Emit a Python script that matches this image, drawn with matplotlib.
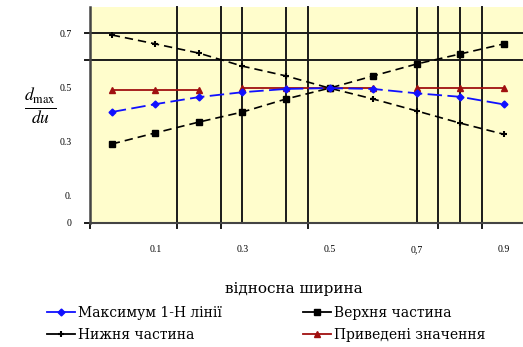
import matplotlib
matplotlib.use("Agg")
import matplotlib.pyplot as plt
from matplotlib.lines import Line2D
import numpy as np

# ---- data ----
x = [0.0, 0.1, 0.2, 0.3, 0.4, 0.5, 0.6, 0.7, 0.8, 0.9]
maximum_1n = [0.409, 0.438, 0.464, 0.482, 0.494, 0.497, 0.494, 0.478, 0.465, 0.437]
upper_part = [0.291, 0.332, 0.372, 0.409, 0.457, 0.497, 0.542, 0.586, 0.623, 0.660]
lower_part = [0.693, 0.660, 0.626, 0.578, 0.542, 0.497, 0.457, 0.413, 0.368, 0.327]
reduced = [0.490, 0.490, 0.490, 0.496, 0.496, 0.496, 0.496, 0.496, 0.496, 0.496]
reduced_groups = [0, 0, 0, 1, 1, 1, 1, 2, 2, 2]

labels = ["Максимум 1-Н лінії", "Верхня частина", "Нижня частина", "Приведені значення"]
xtick_vals = [0.1, 0.3, 0.5, 0.7, 0.9]
xtick_labels = ["0.1", "0.3", "0.5", "0,7", "0.9"]
ytick_vals = [0.0, 0.1, 0.3, 0.5, 0.7]
ytick_labels = ["0", "0.", "0.3", "0.5", "0.7"]
vgrid_ticked = [0.15, 0.25, 0.45, 0.75, 0.85]
vgrid_plain = [0.3, 0.4, 0.7, 0.8]
hgrid = [0.6, 0.7]

plt.rcParams['font.family'] = ['Liberation Serif', 'DejaVu Serif']
plt.rcParams['mathtext.fontset'] = 'stix'

fig = plt.figure(figsize=(5.23, 3.47), dpi=100)
ax = fig.add_axes([90/523, 1-223/347, 1-90/523, 216/347])
ax.set_facecolor('#FFFDCC')
ax.set_xlim(-0.05, 0.944)
ax.set_ylim(0, 0.796)

gc = '#1a1a1a'
# grid lines
for gx in vgrid_ticked:
    ax.plot([gx, gx], [-0.025, 1], transform=ax.get_xaxis_transform(), color=gc, lw=1.4, clip_on=False, zorder=1)
for gx in vgrid_plain:
    ax.plot([gx, gx], [0, 1], transform=ax.get_xaxis_transform(), color=gc, lw=1.4, zorder=1)
for gy in hgrid:
    ax.plot([-0.012, 1], [gy, gy], transform=ax.get_yaxis_transform(), color=gc, lw=1.4, clip_on=False, zorder=1)
ax.plot([-0.012, 0], [0, 0], transform=ax.get_yaxis_transform(), color=gc, lw=1.4, clip_on=False)
ax.plot([0, 0], [-0.025, 0], transform=ax.transAxes, color=gc, lw=1.4, clip_on=False)

xa = np.array(x)
# reduced values (dark red), drawn in segments
red = np.array(reduced)
grp = np.array(reduced_groups)
for g in sorted(set(reduced_groups)):
    m = grp == g
    ax.plot(xa[m], red[m], color='#A01010', lw=1.3, marker='^', ms=4.5, zorder=3)

ax.plot(x, upper_part, color='black', lw=1.2, ls=(0, (5, 3)), marker='s', ms=4.5, zorder=4)
ax.plot(x, lower_part, color='black', lw=1.2, ls=(0, (5, 3)), marker='+', ms=5, mew=1.5, zorder=4)
ax.plot(x, maximum_1n, color='#1010FF', lw=1.3, ls=(0, (8, 3)), marker='D', ms=3.5, zorder=5)

ax.set_xticks(xtick_vals)
ax.set_xticklabels(xtick_labels, fontsize=7)
ax.set_yticks(ytick_vals)
ax.set_yticklabels(ytick_labels, fontsize=7)
ax.tick_params(axis='x', length=0, pad=16)
ax.tick_params(axis='y', length=0, pad=13)

for s in ['top', 'right']:
    ax.spines[s].set_visible(False)
ax.spines['left'].set_color('#444444')
ax.spines['left'].set_linewidth(1.8)
ax.spines['bottom'].set_color('#444444')
ax.spines['bottom'].set_linewidth(1.5)

fig.text(40/523, 1-106/347, r'$\frac{d_{\mathrm{max}}}{du}$', fontsize=18, ha='center', va='center')
fig.text(294/523, 1-289/347, 'відносна ширина', fontsize=11, ha='center', va='center',
         family='DejaVu Serif')

handles = [
    Line2D([], [], color='#1010FF', lw=1.3, marker='D', ms=3.5),
    Line2D([], [], color='black', lw=1.3, marker='+', ms=5, mew=1.5),
    Line2D([], [], color='black', lw=1.3, marker='s', ms=4),
    Line2D([], [], color='#A01010', lw=1.3, marker='^', ms=4),
]
leg_labels = [labels[0], labels[2], labels[1], labels[3]]
fig.legend(handles, leg_labels, loc='center left', bbox_to_anchor=(47/523, 1-324/347), ncol=2,
           frameon=False, prop={'family': 'DejaVu Serif', 'size': 10},
           handlelength=2.0, handletextpad=0.2, borderpad=0, borderaxespad=0,
           columnspacing=5.9, labelspacing=0.55)

fig.savefig('out.png', dpi=100)
